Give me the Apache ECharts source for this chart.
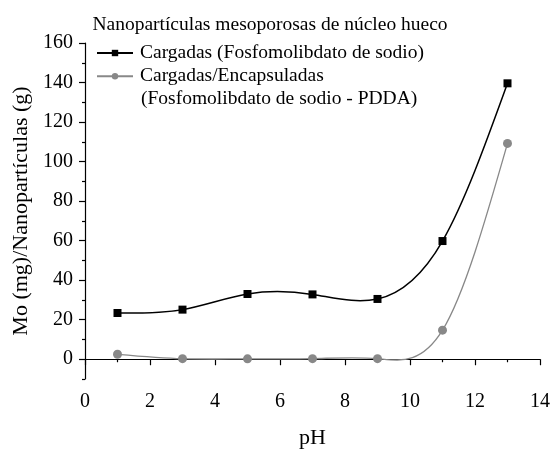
<!DOCTYPE html>
<html>
<head>
<meta charset="utf-8">
<script src="https://cdn.jsdelivr.net/npm/echarts@6/dist/echarts.min.js"></script>
<style>
  html, body { margin: 0; padding: 0; background: #fff; }
  #chart { width: 550px; height: 449px; }
</style>
</head>
<body>
<div id="chart"></div>
<script>
// pH values sampled
const phValues = [1, 3, 5, 7, 9, 11, 13];
// Mo loading (mg per g of nanoparticles)
const cargadas = [23.4, 25.1, 33.0, 32.8, 30.5, 59.8, 139.6];
const encapsuladas = [2.5, 0.3, 0.2, 0.3, 0.3, 14.7, 109.2];

// Tick positions
const yMajorTicks = [0, 20, 40, 60, 80, 100, 120, 140, 160];
const yMinorTicks = [-10, 10, 30, 50, 70, 90, 110, 130, 150];

const nameA = 'Cargadas (Fosfomolibdato de sodio)';
const nameB = 'Cargadas/Encapsuladas';
const nameB2 = '(Fosfomolibdato de sodio - PDDA)';
const titleText = 'Nanopartículas mesoporosas de núcleo hueco';

const FONT = '"Liberation Serif", "DejaVu Serif", serif';

// Natural cubic spline: slope at every knot
function splineSlopes(xs, ys) {
  const n = xs.length;
  const h = [], d = [];
  for (let i = 0; i < n - 1; i++) {
    h.push(xs[i + 1] - xs[i]);
    d.push((ys[i + 1] - ys[i]) / h[i]);
  }
  // second derivatives M, natural end conditions (M0 = Mn-1 = 0)
  const M = new Array(n).fill(0);
  const a = [], b = [], c = [], r = [];
  for (let i = 1; i < n - 1; i++) {
    a.push(h[i - 1]);
    b.push(2 * (h[i - 1] + h[i]));
    c.push(h[i]);
    r.push(6 * (d[i] - d[i - 1]));
  }
  const m = b.length;
  for (let i = 1; i < m; i++) {
    const w = a[i] / b[i - 1];
    b[i] -= w * c[i - 1];
    r[i] -= w * r[i - 1];
  }
  const sol = new Array(m);
  sol[m - 1] = r[m - 1] / b[m - 1];
  for (let i = m - 2; i >= 0; i--) sol[i] = (r[i] - c[i] * sol[i + 1]) / b[i];
  for (let i = 0; i < m; i++) M[i + 1] = sol[i];
  const s = [];
  for (let i = 0; i < n - 1; i++) s.push(d[i] - h[i] * (2 * M[i] + M[i + 1]) / 6);
  s.push(d[n - 2] + h[n - 2] * (M[n - 2] + 2 * M[n - 1]) / 6);
  return s;
}

// Custom series drawing the spline segment from point i to point i+1
function splineSeries(ys, color, width, z) {
  const slopes = splineSlopes(phValues, ys);
  return {
    type: 'custom',
    coordinateSystem: 'cartesian2d',
    silent: true,
    z: z,
    data: phValues.map((x, i) => [x, ys[i]]),
    encode: { x: 0, y: 1 },
    renderItem: function (params, api) {
      const i = params.dataIndex;
      if (i >= phValues.length - 1) return null;
      const x0 = phValues[i], x1 = phValues[i + 1];
      const y0 = ys[i], y1 = ys[i + 1];
      const h = (x1 - x0) / 3;
      const p0 = api.coord([x0, y0]);
      const c1 = api.coord([x0 + h, y0 + h * slopes[i]]);
      const c2 = api.coord([x1 - h, y1 - h * slopes[i + 1]]);
      const p1 = api.coord([x1, y1]);
      return {
        type: 'bezierCurve',
        shape: { x1: p0[0], y1: p0[1], cpx1: c1[0], cpy1: c1[1], cpx2: c2[0], cpy2: c2[1], x2: p1[0], y2: p1[1] },
        style: { stroke: color, lineWidth: width, fill: null }
      };
    }
  };
}

const chart = echarts.init(document.getElementById('chart'), null, { renderer: 'canvas' });

const pairs = (ys) => phValues.map((x, i) => [x, ys[i]]);

chart.setOption({
  animation: false,
  backgroundColor: '#ffffff',
  textStyle: { fontFamily: FONT, color: '#000' },
  title: {
    text: titleText,
    left: 265,
    top: 10,
    textAlign: 'center',
    textStyle: { fontFamily: FONT, fontSize: 19.5, fontWeight: 'normal', color: '#000' }
  },
  legend: {
    orient: 'vertical',
    left: 96,
    top: 43,
    padding: 0,
    itemWidth: 36,
    itemHeight: 8,
    itemGap: 3.3,
    data: [
      { name: nameA, lineStyle: { opacity: 1 } },
      { name: nameB, lineStyle: { opacity: 1 } }
    ],
    textStyle: { fontFamily: FONT, fontSize: 19.5, lineHeight: 20, color: '#000', padding: [0, 0, 0, 2] }
  },
  graphic: [{
    type: 'text',
    left: 141,
    top: 89,
    style: { text: nameB2, font: '19.5px ' + FONT, fill: '#000' }
  }],
  grid: { left: 85, right: 10, top: 43, bottom: 70, containLabel: false, outerBoundsMode: 'none' },
  xAxis: {
    type: 'value',
    min: 0,
    max: 14,
    interval: 2,
    name: 'pH',
    nameLocation: 'middle',
    nameGap: 48,
    nameTextStyle: { fontFamily: FONT, fontSize: 22, color: '#000' },
    axisLine: { lineStyle: { color: '#000', width: 1.2 } },
    axisTick: { inside: false, length: 6, lineStyle: { color: '#000', width: 1.2 } },
    minorTick: { show: true, splitNumber: 2, length: 3, lineStyle: { color: '#000', width: 1.2 } },
    axisLabel: { fontFamily: FONT, fontSize: 20, color: '#000', margin: 13 },
    splitLine: { show: false }
  },
  yAxis: [{
    type: 'value',
    min: -10,
    max: 160,
    name: 'Mo (mg)/Nanopartículas (g)',
    nameLocation: 'middle',
    nameGap: 53,
    nameTextStyle: { fontFamily: FONT, fontSize: 22, color: '#000' },
    axisLine: { show: true, lineStyle: { color: '#000', width: 1.2 } },
    axisTick: { show: true, length: 6, customValues: yMajorTicks, lineStyle: { color: '#000', width: 1.2 } },
    axisLabel: { fontFamily: FONT, fontSize: 20, color: '#000', margin: 12, customValues: yMajorTicks },
    splitLine: { show: false }
  }, {
    type: 'value',
    position: 'left',
    min: -10,
    max: 160,
    axisLine: { show: false },
    axisTick: { show: true, length: 3, customValues: yMinorTicks, lineStyle: { color: '#000', width: 1.2 } },
    axisLabel: { show: false, customValues: yMinorTicks },
    splitLine: { show: false }
  }],
  series: [
    splineSeries(cargadas, '#000', 1.5, 2),
    splineSeries(encapsuladas, '#888', 1.3, 1),
    {
      name: nameA,
      type: 'line',
      data: pairs(cargadas),
      symbol: 'rect',
      symbolSize: 8,
      itemStyle: { color: '#000' },
      lineStyle: { color: '#000', width: 1.5, opacity: 0 },
      z: 4
    }, {
      name: nameB,
      type: 'line',
      data: pairs(encapsuladas),
      symbol: 'circle',
      symbolSize: 9,
      itemStyle: { color: '#888' },
      lineStyle: { color: '#888', width: 1.3, opacity: 0 },
      z: 3
    }
  ]
});
</script>
</body>
</html>
